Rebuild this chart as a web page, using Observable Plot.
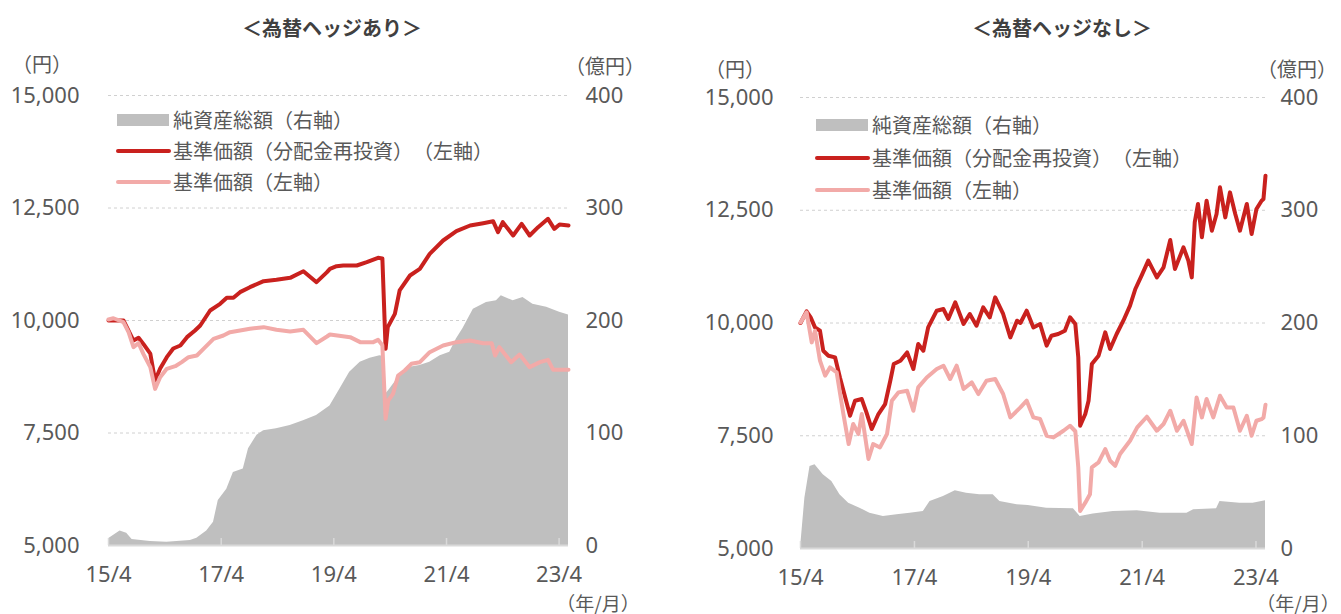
<!DOCTYPE html>
<html lang="ja">
<head>
<meta charset="utf-8">
<script src="https://cdn.jsdelivr.net/npm/d3@7"></script>
<script src="https://cdn.jsdelivr.net/npm/@observablehq/plot@0.6"></script>
<style>
  html, body { margin: 0; padding: 0; background: #ffffff; }
  body { position: relative; width: 1341px; height: 614px; overflow: hidden;
         font-family: "Noto Sans CJK JP", "Noto Sans", sans-serif; color: #595959;
         text-spacing-trim: space-all; font-kerning: none; }
  .chart { position: absolute; top: 0; }
  .lbl { position: absolute; white-space: nowrap; line-height: 1; transform: translate(-50%, -50%); font-size: 20px; }
  .ttl { font-weight: 700; color: #404040; font-size: 20px; }
  .leg { position: absolute; white-space: nowrap; line-height: 1; transform: translateY(-50%); font-size: 20px; }
  .sw { position: absolute; }
</style>
</head>
<body>
<div id="left" class="chart" style="left:0px"></div>
<div id="right" class="chart" style="left:670px"></div>

<div class="lbl ttl" style="left:332px;top:28px">＜為替ヘッジあり＞</div>
<div class="lbl ttl" style="left:1062px;top:28px">＜為替ヘッジなし＞</div>

<div class="lbl" style="left:42px;top:64px">（円）</div>
<div class="lbl" style="left:605px;top:66px">（億円）</div>
<div class="lbl" style="left:598px;top:602px;font-size:19px">（年/月）</div>
<div class="lbl" style="left:735px;top:69px">（円）</div>
<div class="lbl" style="left:1297px;top:69px">（億円）</div>
<div class="lbl" style="left:1298px;top:602px;font-size:19px">（年/月）</div>

<div id="legendL"></div>
<div id="legendR"></div>

<script>
// ---------- data ----------
const xTickDates = ["2015-04-01", "2017-04-01", "2019-04-01", "2021-04-01", "2023-04-01"];
const yenTicks = [5000, 7500, 10000, 12500, 15000];
const okuTicks = [0, 100, 200, 300, 400];
const legendLabels = ["純資産総額（右軸）", "基準価額（分配金再投資）（左軸）", "基準価額（左軸）"];

// 為替ヘッジあり
const hedgedAssets = [
  ["2015-04-01", 6], ["2015-06-15", 13], ["2015-07-28", 11], ["2015-09-01", 5.3], ["2015-12-28", 3.6],
  ["2016-04-13", 3], ["2016-09-13", 4.4], ["2016-10-25", 6.5], ["2016-12-28", 13], ["2017-02-10", 20.7],
  ["2017-03-13", 40], ["2017-05-07", 50], ["2017-06-19", 65], ["2017-08-22", 68], ["2017-09-25", 86],
  ["2017-11-19", 98], ["2018-01-01", 102], ["2018-03-25", 103.7], ["2018-06-22", 106.7], ["2018-09-16", 111],
  ["2018-12-10", 115.6], ["2019-03-07", 124], ["2019-05-10", 139], ["2019-07-13", 154], ["2019-09-19", 163],
  ["2019-11-22", 166.5], ["2020-01-25", 168.6], ["2020-02-20", 168], ["2020-03-02", 134.5], ["2020-03-28", 139],
  ["2020-06-01", 151], ["2020-08-07", 158.5], ["2020-10-10", 160], ["2020-12-13", 163], ["2021-02-19", 168.7],
  ["2021-04-22", 171.8], ["2021-06-04", 183.6], ["2021-07-16", 192.6], ["2021-09-22", 210], ["2021-12-16", 216],
  ["2022-02-19", 217.5], ["2022-03-22", 222], ["2022-06-07", 217.5], ["2022-08-10", 220.4], ["2022-10-13", 214.5],
  ["2023-01-10", 211.8], ["2023-04-04", 207.4], ["2023-06-01", 204.8]
];
const hedgedNavReinvested = [
  ["2015-04-01", 10000], ["2015-07-07", 10000], ["2015-09-10", 9555], ["2015-10-13", 9615], ["2015-11-13", 9480],
  ["2015-12-28", 9265], ["2016-01-28", 8667], ["2016-03-01", 8933], ["2016-04-13", 9185], ["2016-05-25", 9378],
  ["2016-07-10", 9444], ["2016-08-22", 9630], ["2016-10-13", 9778], ["2016-11-16", 9889], ["2017-01-19", 10222],
  ["2017-03-25", 10370], ["2017-05-07", 10504], ["2017-06-19", 10504], ["2017-08-01", 10630], ["2017-10-04", 10740],
  ["2018-01-01", 10874], ["2018-03-25", 10904], ["2018-06-22", 10948], ["2018-09-16", 11096], ["2018-12-10", 10852],
  ["2019-02-16", 11074], ["2019-03-07", 11148], ["2019-04-19", 11207], ["2019-06-01", 11222], ["2019-08-28", 11222],
  ["2019-11-01", 11296], ["2020-01-13", 11393], ["2020-02-10", 11380], ["2020-03-02", 9370], ["2020-03-16", 9852],
  ["2020-05-01", 10148], ["2020-06-01", 10667], ["2020-08-07", 11000], ["2020-10-10", 11148], ["2020-12-13", 11481],
  ["2021-03-10", 11778], ["2021-06-04", 11985], ["2021-09-01", 12111], ["2021-11-25", 12163], ["2022-01-28", 12207],
  ["2022-03-01", 11963], ["2022-04-01", 12185], ["2022-06-07", 11889], ["2022-08-01", 12148], ["2022-09-22", 11889],
  ["2022-11-16", 12074], ["2023-01-19", 12259], ["2023-03-01", 12037], ["2023-04-04", 12133], ["2023-06-01", 12111]
];
const hedgedNav = [
  ["2015-04-01", 10022], ["2015-05-03", 10050], ["2015-07-07", 9963], ["2015-08-09", 9740], ["2015-09-10", 9407],
  ["2015-10-13", 9496], ["2015-11-13", 9259], ["2015-12-28", 8963], ["2016-01-28", 8481], ["2016-03-01", 8741],
  ["2016-04-13", 8926], ["2016-06-07", 8985], ["2016-07-19", 9074], ["2016-09-01", 9185], ["2016-10-25", 9222],
  ["2016-12-07", 9370], ["2017-02-10", 9593], ["2017-04-15", 9667], ["2017-05-28", 9741], ["2017-08-01", 9778],
  ["2017-10-04", 9815], ["2018-01-01", 9852], ["2018-03-25", 9793], ["2018-06-22", 9756], ["2018-09-16", 9793],
  ["2018-12-10", 9496], ["2019-02-16", 9644], ["2019-03-07", 9689], ["2019-07-16", 9630], ["2019-09-19", 9519],
  ["2019-12-13", 9519], ["2020-01-13", 9570], ["2020-02-10", 9450], ["2020-03-02", 7815], ["2020-03-19", 8222],
  ["2020-04-19", 8370], ["2020-05-22", 8778], ["2020-07-04", 8889], ["2020-08-16", 9037], ["2020-10-10", 9074],
  ["2020-12-13", 9296], ["2021-03-10", 9444], ["2021-06-04", 9519], ["2021-09-01", 9556], ["2021-11-25", 9496],
  ["2022-01-19", 9496], ["2022-02-10", 9222], ["2022-03-10", 9407], ["2022-05-25", 9074], ["2022-07-19", 9244],
  ["2022-09-22", 8963], ["2022-11-28", 9074], ["2023-01-19", 9126], ["2023-02-22", 8904], ["2023-06-01", 8904]
];

// 為替ヘッジなし
const unhedgedAssets = [
  ["2015-04-01", 0], ["2015-04-29", 44.6], ["2015-06-01", 72.8], ["2015-07-03", 74.3], ["2015-08-25", 65.4],
  ["2015-10-19", 59.5], ["2015-12-10", 47.7], ["2016-02-04", 40.2], ["2016-04-16", 35.8], ["2016-06-19", 31.3],
  ["2016-09-14", 28.4], ["2016-12-10", 29.9], ["2017-03-04", 31.3], ["2017-05-28", 32.8], ["2017-07-10", 41.7],
  ["2017-10-04", 46.2], ["2017-12-19", 51.2], ["2018-03-01", 49.1], ["2018-05-25", 47.7], ["2018-08-19", 47.7],
  ["2018-10-01", 41.7], ["2019-01-19", 38.8], ["2019-04-01", 38.2], ["2019-07-28", 35.8], ["2020-01-16", 35.2],
  ["2020-02-28", 28.4], ["2020-05-22", 30.5], ["2020-09-28", 32.8], ["2021-02-28", 33.4], ["2021-07-25", 31.3],
  ["2022-01-13", 31.3], ["2022-02-25", 34.3], ["2022-07-22", 35.2], ["2022-08-13", 41.7], ["2022-12-19", 40.2],
  ["2023-03-13", 40.2], ["2023-06-01", 42.3]
];
const unhedgedNavReinvested = [
  ["2015-04-01", 10000], ["2015-05-10", 10258], ["2015-06-05", 10125], ["2015-07-03", 9902], ["2015-08-04", 9829],
  ["2015-08-25", 9385], ["2015-09-27", 9274], ["2015-11-09", 9237], ["2015-12-10", 8793], ["2016-01-13", 8350],
  ["2016-02-13", 7944], ["2016-03-16", 8277], ["2016-04-28", 8314], ["2016-05-28", 8017], ["2016-07-01", 7649],
  ["2016-08-13", 7982], ["2016-09-25", 8203], ["2016-10-28", 8720], ["2016-11-19", 9090], ["2017-01-01", 9164],
  ["2017-02-13", 9348], ["2017-03-25", 8980], ["2017-04-25", 9534], ["2017-05-28", 9385], ["2017-06-28", 9902],
  ["2017-08-22", 10273], ["2017-10-04", 10310], ["2017-11-04", 10089], ["2017-12-19", 10457], ["2018-02-10", 9978],
  ["2018-03-22", 10200], ["2018-05-04", 9940], ["2018-06-16", 10346], ["2018-07-28", 10124], ["2018-09-01", 10568],
  ["2018-10-22", 10200], ["2018-12-07", 9681], ["2019-01-19", 10051], ["2019-02-10", 10000], ["2019-03-22", 10273],
  ["2019-05-04", 9902], ["2019-06-16", 9978], ["2019-07-28", 9497], ["2019-08-28", 9718], ["2019-10-10", 9756],
  ["2019-11-22", 9830], ["2019-12-25", 10125], ["2020-01-28", 9978], ["2020-02-16", 9237], ["2020-02-28", 7722],
  ["2020-04-01", 7982], ["2020-04-22", 8277], ["2020-05-13", 9090], ["2020-06-25", 9274], ["2020-08-07", 9792],
  ["2020-09-07", 9423], ["2020-10-19", 9756], ["2020-12-01", 10051], ["2021-01-13", 10384], ["2021-02-16", 10754],
  ["2021-03-28", 11050], ["2021-05-10", 11382], ["2021-07-04", 11012], ["2021-08-16", 11234], ["2021-09-28", 11841],
  ["2021-10-28", 11198], ["2021-12-22", 11678], ["2022-01-22", 11382], ["2022-02-13", 11012], ["2022-03-04", 12232],
  ["2022-03-25", 12640], ["2022-04-19", 11899], ["2022-05-19", 12712], ["2022-06-22", 12047], ["2022-07-22", 12418],
  ["2022-08-13", 13008], ["2022-09-16", 12342], ["2022-10-16", 12897], ["2022-11-19", 12418], ["2022-12-19", 12047],
  ["2023-02-01", 12640], ["2023-03-04", 11973], ["2023-04-04", 12528], ["2023-05-07", 12712], ["2023-05-19", 12750],
  ["2023-06-01", 13267]
];
const unhedgedNav = [
  ["2015-04-01", 10013], ["2015-05-10", 10235], ["2015-06-12", 9570], ["2015-07-03", 9829], ["2015-08-04", 9164],
  ["2015-09-06", 8831], ["2015-10-07", 9016], ["2015-11-19", 8904], ["2016-01-01", 7982], ["2016-02-04", 7316],
  ["2016-03-04", 7760], ["2016-04-07", 7538], ["2016-04-28", 7982], ["2016-06-10", 6984], ["2016-07-10", 7316],
  ["2016-08-23", 7241], ["2016-10-07", 7538], ["2016-11-07", 8277], ["2016-12-19", 8461], ["2017-02-13", 8498],
  ["2017-03-25", 8055], ["2017-04-25", 8572], ["2017-06-19", 8793], ["2017-08-22", 8980], ["2017-10-04", 9053],
  ["2017-11-16", 8758], ["2017-12-28", 9053], ["2018-02-10", 8536], ["2018-04-04", 8683], ["2018-05-16", 8425],
  ["2018-07-07", 8720], ["2018-09-01", 8758], ["2018-10-22", 8425], ["2018-12-07", 7907], ["2019-02-10", 8128],
  ["2019-03-22", 8277], ["2019-05-04", 7907], ["2019-06-16", 7870], ["2019-07-28", 7500], ["2019-09-10", 7463],
  ["2019-11-13", 7611], ["2019-12-25", 7722], ["2020-01-28", 7600], ["2020-02-16", 6797], ["2020-02-28", 5832],
  ["2020-04-01", 6016], ["2020-05-01", 6202], ["2020-05-13", 6797], ["2020-06-25", 6908], ["2020-08-07", 7204],
  ["2020-09-07", 6945], ["2020-10-10", 6834], ["2020-11-10", 7094], ["2021-01-13", 7390], ["2021-02-28", 7685],
  ["2021-05-01", 7922], ["2021-07-04", 7611], ["2021-08-16", 7760], ["2021-09-28", 8055], ["2021-11-10", 7611],
  ["2021-12-22", 7833], ["2022-02-13", 7316], ["2022-03-16", 8350], ["2022-04-19", 7907], ["2022-05-19", 8314],
  ["2022-07-01", 7907], ["2022-08-13", 8387], ["2022-09-25", 8128], ["2022-11-07", 8128], ["2022-12-19", 7611],
  ["2023-02-01", 7944], ["2023-03-04", 7500], ["2023-04-04", 7833], ["2023-05-07", 7870], ["2023-05-19", 7900],
  ["2023-06-01", 8188]
];

// ---------- styling ----------
const C_AREA = "#bfbfbf", C_RED = "#c9211e", C_PINK = "#f2aaa8", C_GRID = "#d0d0d0", C_AXIS = "#d9d9d9";
const xDomain = [new Date("2015-04-01"), new Date("2023-06-01")];
const rows = arr => arr.map(([d, v]) => ({date: new Date(d), v}));
const okuToYen = v => 5000 + v * 25;   // right axis (億円 0–400) mapped onto left axis (円 5,000–15,000)
const fmtX = d => `${String(d.getUTCFullYear()).slice(2)}/${d.getUTCMonth() + 1}`;

function panel({assets, red, pink, width, mL, mR, mT, mB, padL, padR}) {
  const tickDates = xTickDates.map(s => new Date(s));
  return Plot.plot({
    width, height: 614,
    marginLeft: mL, marginRight: mR, marginTop: mT, marginBottom: mB,
    x: {type: "utc", domain: xDomain, label: null},
    y: {domain: [5000, 15000], label: null},
    style: {fontFamily: '"Noto Sans", "Noto Sans CJK JP", sans-serif', fontSize: "22px", color: "#595959", background: "transparent", overflow: "visible"},
    marks: [
      Plot.ruleY(yenTicks.slice(1), {stroke: C_GRID, strokeDasharray: "3,3", strokeWidth: 1}),
      Plot.areaY(rows(assets), {x: "date", y1: () => 5000, y2: d => okuToYen(d.v), fill: C_AREA, curve: "linear"}),
      Plot.ruleY([5000], {stroke: C_AXIS, strokeWidth: 2}),
      Plot.ruleX(tickDates, {x: d => d, y1: () => 5000, y2: () => 5000, insetBottom: 7, stroke: C_AXIS, strokeWidth: 1.5}),
      Plot.lineY(rows(red), {x: "date", y: "v", stroke: C_RED, strokeWidth: 4, curve: "linear"}),
      Plot.lineY(rows(pink), {x: "date", y: "v", stroke: C_PINK, strokeWidth: 4, curve: "linear"}),
      Plot.axisY(yenTicks, {anchor: "left", label: null, tickSize: 0, tickPadding: padL, tickFormat: d3.format(",")}),
      Plot.axisY(okuTicks.map(okuToYen), {anchor: "right", label: null, tickSize: 0, tickPadding: padR, tickFormat: d => String((d - 5000) / 25)}),
      Plot.axisX(tickDates, {anchor: "bottom", label: null, tickSize: 0, tickPadding: 21, tickFormat: fmtX})
    ]
  });
}

document.getElementById("left").append(panel({
  assets: hedgedAssets, red: hedgedNavReinvested, pink: hedgedNav,
  width: 670, mL: 108, mR: 102, mT: 95, mB: 69, padL: 29, padR: 17
}));
document.getElementById("right").append(panel({
  assets: unhedgedAssets, red: unhedgedNavReinvested, pink: unhedgedNav,
  width: 671, mL: 130, mR: 76, mT: 97, mB: 66, padL: 27, padR: 15
}));

// ---------- legends ----------
function legend(el, x0, ys) {
  const box = document.getElementById(el);
  const sw = [
    `background:${C_AREA};left:${x0}px;top:${ys[0] - 6}px;width:52px;height:12px`,
    `background:${C_RED};left:${x0 - 1}px;top:${ys[1] - 2}px;width:55px;height:4px;border-radius:2px`,
    `background:${C_PINK};left:${x0 - 1}px;top:${ys[2] - 2}px;width:55px;height:4px;border-radius:2px`
  ];
  legendLabels.forEach((t, i) => {
    const s = document.createElement("div");
    s.className = "sw"; s.style.cssText = sw[i];
    box.append(s);
    const l = document.createElement("div");
    l.className = "leg"; l.textContent = t;
    l.style.left = (x0 + 56) + "px"; l.style.top = ys[i] + "px";
    box.append(l);
  });
}
legend("legendL", 117, [120, 151, 182]);
legend("legendR", 816, [124.5, 157.7, 190]);
</script>
</body>
</html>
